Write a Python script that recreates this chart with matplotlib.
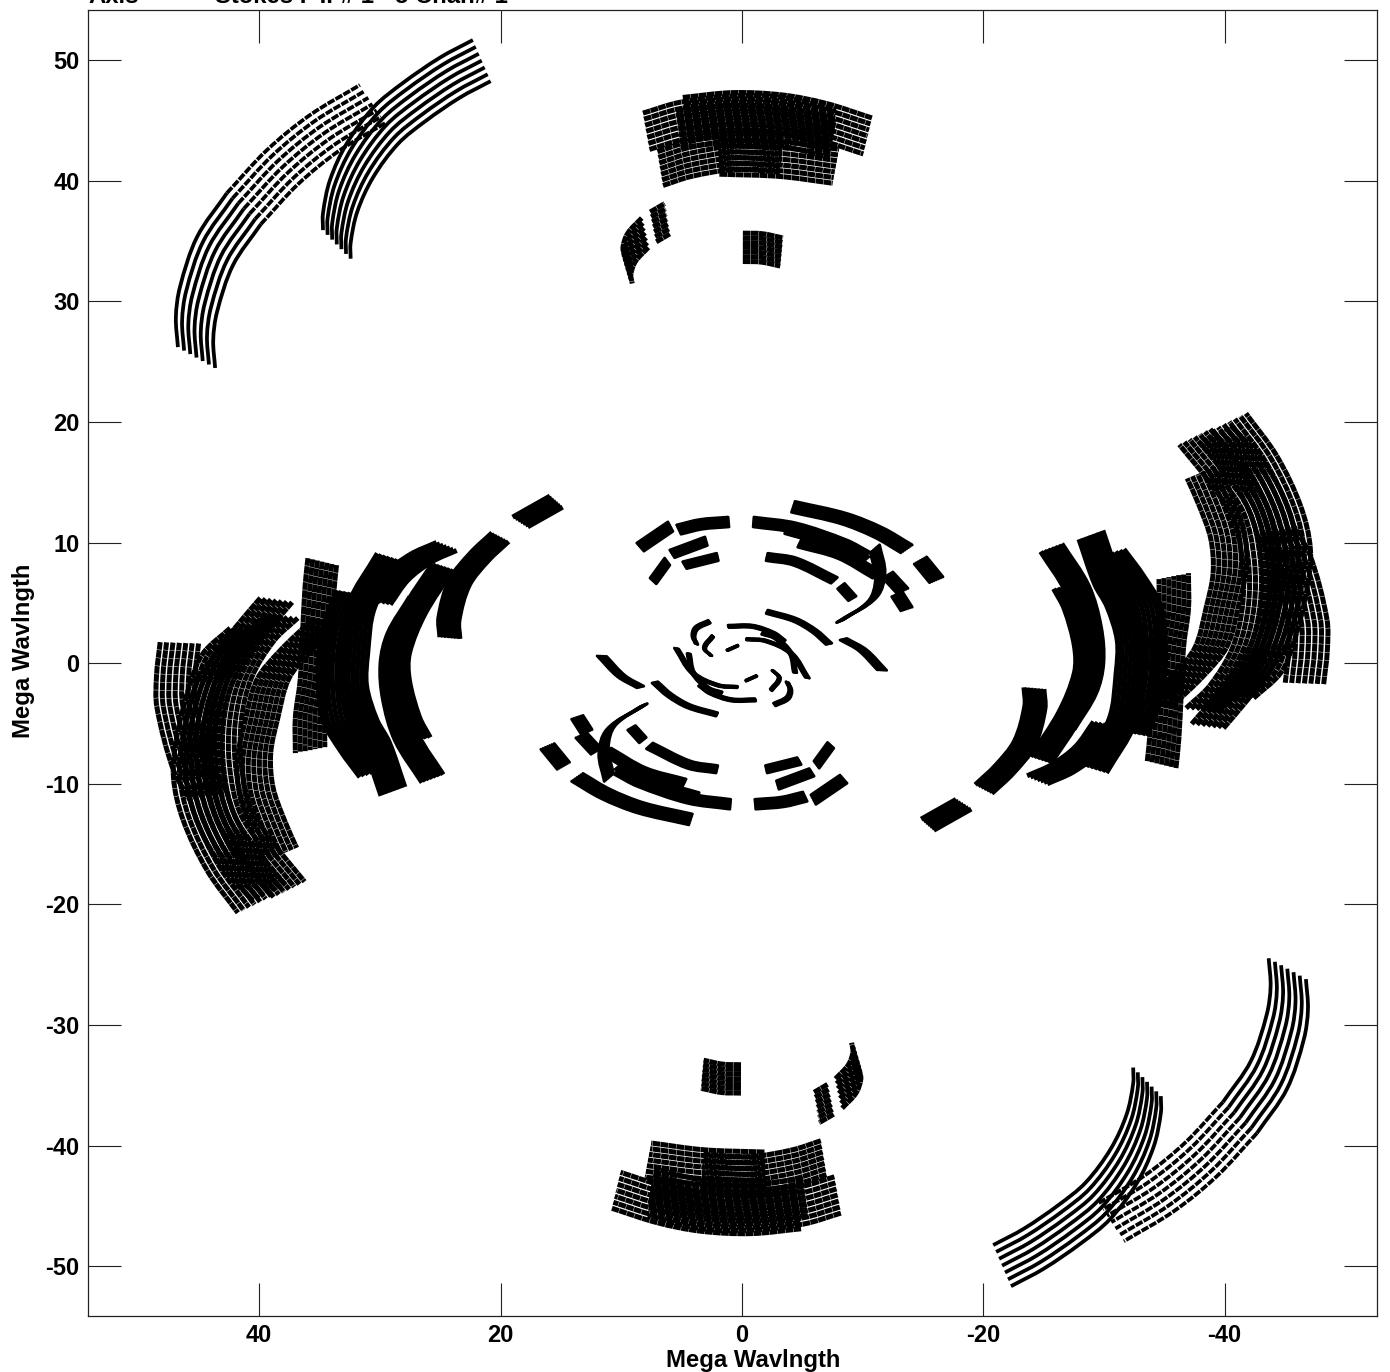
import matplotlib
matplotlib.use("Agg")
import matplotlib.pyplot as plt
from matplotlib.patches import PathPatch
from matplotlib.path import Path
import numpy as np

plt.rcParams['font.family'] = ['Liberation Sans', 'DejaVu Sans']
plt.rcParams['font.weight'] = 'bold'
plt.rcParams['lines.scale_dashes'] = False

# channel scale of the 7 traces in a band
channels = [1.0, 0.989, 0.978, 0.967, 0.956, 0.945, 0.934]

# outer trace of each band, (u, v) in mega wavelengths. mirror is drawn too
far_solid = [
    [(46.73, 26.2), (46.9, 28.69), (46.56, 31.18), (45.15, 35.32), (42.67, 38.97)],
    [(34.71, 35.9), (34.71, 37.3), (34.13, 40.05), (32.73, 43.1), (30.5, 46.1), (28.09, 48.1), (25.02, 50.2), (22.29, 51.66)],
]
far_dashed = [
    [(42.67, 38.97), (39.35, 42.54), (35.79, 45.44), (31.65, 47.93)],
]
top_arcs = [
    [(8.2, 45.6), (5.13, 46.5), (0.8, 47.0), (-3.3, 46.9), (-7.8, 45.8)],
    [(4.9, 46.9), (0.75, 47.3), (-3.4, 47.1), (-7.0, 46.4), (-10.77, 45.2)],
    [(7.0, 42.4), (4.5, 43.2), (0.8, 43.8), (-3.4, 43.6)],
    [(5.45, 45.8), (1.0, 46.2), (-3.0, 46.0), (-7.8, 44.9)],
    [(2.0, 43.4), (-3.37, 43.2), (-8.05, 42.6)],
    [(-0.08, 35.65), (-1.7, 35.6), (-3.4, 35.25)],
    [(7.6, 37.4), (6.4, 38.1)],
    [(8.3, 36.9), (9.45, 35.65), (9.85, 34.5), (9.73, 33.7)],
]
side_arcs = [
    [(48.2, 1.74), (48.5, -1.0), (48.47, -3.65), (47.1, -8.87), (45.7, -11.4)],
    [(42.4, 2.9), (44.65, 0.8), (45.7, -1.66), (46.8, -6.0), (47.1, -9.45), (46.3, -13.0), (44.3, -17.2), (41.76, -20.7)],
    [(39.9, 5.4), (41.6, 3.4), (43.5, 1.0), (45.3, -2.0), (46.2, -6.0), (46.0, -10.0), (45.0, -13.5), (43.0, -17.0), (40.5, -19.7)],
    [(39.4, 4.0), (41.5, 2.0), (43.5, -1.3), (44.4, -5.0), (44.4, -9.0), (43.5, -13.0), (41.3, -16.3), (38.8, -19.4)],
    [(35.6, 3.6), (38.3, 1.0), (40.2, -1.4), (41.2, -5.0), (41.8, -8.0), (41.6, -11.0), (40.6, -13.9), (39.5, -16.4)],
    [(35.96, 8.7), (36.2, 6.3), (36.4, 2.5), (36.6, -1.4), (37.0, -4.5), (37.0, -7.46)],
    [(33.55, 6.05), (34.7, 3.0), (35.1, -0.5), (34.7, -4.7), (33.3, -7.2), (31.65, -9.45)],
    [(30.2, 9.1), (32.6, 4.9), (33.2, 0.85), (33.3, -2.0), (32.4, -5.0), (31.3, -7.0), (29.9, -11.0)],
    [(25.3, 10.0), (27.5, 9.0), (29.6, 7.4), (31.2, 5.2)],
    [(25.6, 8.3), (28.1, 4.4), (29.5, 0.85), (29.5, -1.5), (28.6, -4.8), (27.65, -6.6)],
    [(27.5, 5.5), (29.3, 2.5), (29.9, 0.0), (29.7, -3.0), (28.7, -6.4), (26.5, -9.9)],
    [(25.02, 2.15), (25.1, 3.8), (24.2, 6.9), (22.5, 9.1), (20.7, 10.8)],
    [(19.0, 12.1), (15.9, 13.85)],
]
ring_arcs = [
    [(8.7, 9.95), (6.13, 11.7)],
    [(5.4, 11.45), (3.5, 11.9), (1.15, 12.1)],
    [(5.97, 9.37), (3.07, 10.45)],
    [(7.6, 7.05), (6.4, 8.7)],
    [(4.9, 8.4), (2.1, 9.1)],
    [(-1.0, 12.1), (-4.55, 11.6), (-8.7, 10.2), (-10.6, 9.2)],
    [(-3.8, 11.5), (-7.5, 10.4), (-10.5, 8.8)],
    [(-4.96, 10.3), (-8.5, 9.3), (-11.6, 7.55)],
    [(-11.4, 9.8), (-11.85, 7.5), (-11.2, 5.5), (-8.4, 3.6)],
    [(-15.3, 8.8), (-16.65, 7.15)],
    [(-4.4, 13.4), (-8.7, 12.4), (-11.7, 11.2), (-14.1, 9.8)],
    [(-2.15, 9.1), (-4.55, 8.7), (-7.9, 7.1)],
    [(-8.5, 6.6), (-9.45, 5.55)],
    [(-12.5, 7.55), (-13.75, 6.2)],
    [(-13.3, 5.9), (-14.1, 4.65)],
]
core_arcs = [
    [(-2.15, 4.4), (-4.55, 3.7), (-6.2, 2.75), (-7.45, 1.65)],
    [(-8.7, 2.05), (-10.35, 1.1), (-12.0, -0.6)],
    [(1.15, 3.15), (-0.9, 3.15), (-2.7, 2.55), (-3.6, 1.9)],
    [(-0.4, 2.05), (-2.05, 1.9), (-4.2, 0.85), (-5.6, -1.25)],
    [(-1.75, 2.55), (-2.9, 2.15), (-4.2, 0.8), (-4.55, -0.8)],
    [(2.8, 3.55), (3.9, 3.0), (4.15, 2.3), (3.9, 1.65)],
    [(2.5, 2.3), (3.2, 1.3), (2.65, 0.65)],
    [(1.25, 1.1), (0.35, 1.5)],
]

x_ticks = [40, 20, 0, -20, -40]
y_ticks = [50, 40, 30, 20, 10, 0, -10, -20, -30, -40, -50]


def smooth_path(pts):
    # same read points, drawn as a curve through them instead of straight pieces
    pts = np.array(pts, dtype=float)
    if len(pts) == 2:
        return Path(pts)
    dirs = [pts[1] - pts[0]]
    for i in range(1, len(pts) - 1):
        dirs.append(pts[i + 1] - pts[i - 1])
    dirs.append(pts[-1] - pts[-2])
    dirs = [d / np.hypot(*d) for d in dirs]
    verts = [pts[0]]
    codes = [Path.MOVETO]
    for i in range(len(pts) - 1):
        step = np.hypot(*(pts[i + 1] - pts[i])) / 3
        verts += [pts[i] + dirs[i] * step, pts[i + 1] - dirs[i + 1] * step, pts[i + 1]]
        codes += [Path.CURVE4] * 3
    return Path(verts, codes)


def draw_band(ax, arc, lw, dash="-", cap="butt"):
    for c in channels:
        for sign in (1, -1):
            path = smooth_path([(sign * c * u, sign * c * v) for u, v in arc])
            ax.add_patch(PathPatch(path, fill=False, ec="black", lw=lw, ls=dash,
                                   capstyle=cap, joinstyle="round"))


fig = plt.figure(figsize=(13.9, 13.72), dpi=100)
ax = fig.add_axes([88 / 1390, 1 - 1316 / 1372, (1377 - 88) / 1390, (1316 - 10) / 1372])

for arc in far_solid:
    draw_band(ax, arc, 2.7)
for arc in far_dashed:
    draw_band(ax, arc, 2.7, (0, (5.5, 1.0)))
for arc in top_arcs + side_arcs:
    # the long baselines show their sample spacing, short ones fill in
    if max(np.hypot(u, v) for u, v in arc) > 35.5:
        draw_band(ax, arc, 3.6, (0, (5.5, 0.3)))
    else:
        draw_band(ax, arc, 3.6)
for arc in ring_arcs:
    draw_band(ax, arc, 2.2, cap="round")
for arc in core_arcs:
    draw_band(ax, arc, 2.0, cap="round")

ax.set_xlim(54.18, -52.62)
ax.set_ylim(-54.13, 54.15)
ax.set_xticks(x_ticks)
ax.set_xticklabels([str(t) for t in x_ticks])
ax.set_yticks(y_ticks)
ax.set_yticklabels([str(t) for t in y_ticks])
ax.tick_params(direction="in", length=24, width=0.8, top=True, right=True,
               labelsize=17, color="#222222", pad=6)
for s in ax.spines.values():
    s.set_linewidth(0.9)
    s.set_color("#222222")

fig.text(753 / 1390, 1 - 1360 / 1372, "Mega Wavlngth", fontsize=17.2, ha="center", va="center")
fig.text(24 / 1390, 1 - 651 / 1372, "Mega Wavlngth", fontsize=17.2, ha="center", va="center", rotation=90)

# header sits mostly above the page, only the feet of the letters show
fig.text(88 / 1390, 1 - 3 / 1372, "Axis", fontsize=17.2)
fig.text(215 / 1390, 1 - 3 / 1372, "Stokes I  IF# 1 - 5 Chan# 1", fontsize=17.2)

fig.savefig("out.png", dpi=100)
plt.close()
